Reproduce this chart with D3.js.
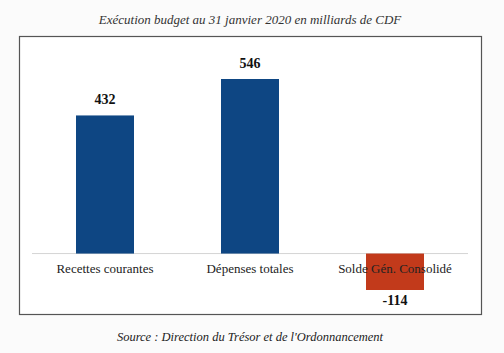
<!DOCTYPE html>
<html><head><meta charset="utf-8">
<script src="https://cdn.jsdelivr.net/npm/d3@7"></script>
<style>body{margin:0;background:#fbfbfb}</style>
</head><body>
<script>
const categories = ["Recettes courantes", "Dépenses totales", "Solde Gén. Consolidé"];
const values = [432, 546, -114];
const colors = ["#0e4683", "#0e4683", "#c23a1b"];
const title = "Exécution budget au 31 janvier 2020 en milliards de CDF";
const source = "Source : Direction du Trésor et de l'Ordonnancement";

const W = 504, H = 353;
const svg = d3.select("body").append("svg").attr("width", W).attr("height", H)
  .style("font-family", "'Liberation Serif', 'DejaVu Serif', serif");
svg.append("rect").attr("width", W).attr("height", H).attr("fill", "#fbfbfb");

// frame
svg.append("rect").attr("x", 19.5).attr("y", 36.5).attr("width", 462).attr("height", 278)
  .attr("fill", "#fff").attr("stroke", "#555").attr("stroke-width", 1.2);

const x = d3.scaleBand().domain(categories).range([32.5, 467.5]).paddingInner(0.6).paddingOuter(0.3);
const y = d3.scaleLinear().domain([-114, 546]).range([290, 79]);

svg.append("text").attr("x", 250).attr("y", 24).attr("text-anchor", "middle")
  .attr("font-style", "italic").attr("font-size", 13).attr("fill", "#333").text(title);

// zero line
svg.append("line").attr("x1", 32).attr("x2", 468).attr("y1", y(0)).attr("y2", y(0))
  .attr("stroke", "#d4d4d4").attr("stroke-width", 1);

svg.selectAll(".bar").data(values).enter().append("rect")
  .attr("x", (d, i) => x(categories[i]))
  .attr("width", x.bandwidth())
  .attr("y", d => y(Math.max(0, d)))
  .attr("height", d => Math.abs(y(d) - y(0)))
  .attr("fill", (d, i) => colors[i]);

svg.selectAll(".cat").data(categories).enter().append("text")
  .attr("x", d => x(d) + x.bandwidth() / 2).attr("y", y(0) + 19)
  .attr("text-anchor", "middle").attr("font-size", 13).attr("fill", "#222")
  .text(d => d);

svg.selectAll(".val").data(values).enter().append("text")
  .attr("x", (d, i) => x(categories[i]) + x.bandwidth() / 2)
  .attr("y", d => d >= 0 ? y(d) - 11 : y(d) + 15)
  .attr("text-anchor", "middle").attr("font-size", 14).attr("font-weight", "bold").attr("fill", "#111")
  .text(d => d);

svg.append("text").attr("x", 250).attr("y", 341).attr("text-anchor", "middle")
  .attr("font-style", "italic").attr("font-size", 12.5).attr("fill", "#222").text(source);
</script>
</body></html>
